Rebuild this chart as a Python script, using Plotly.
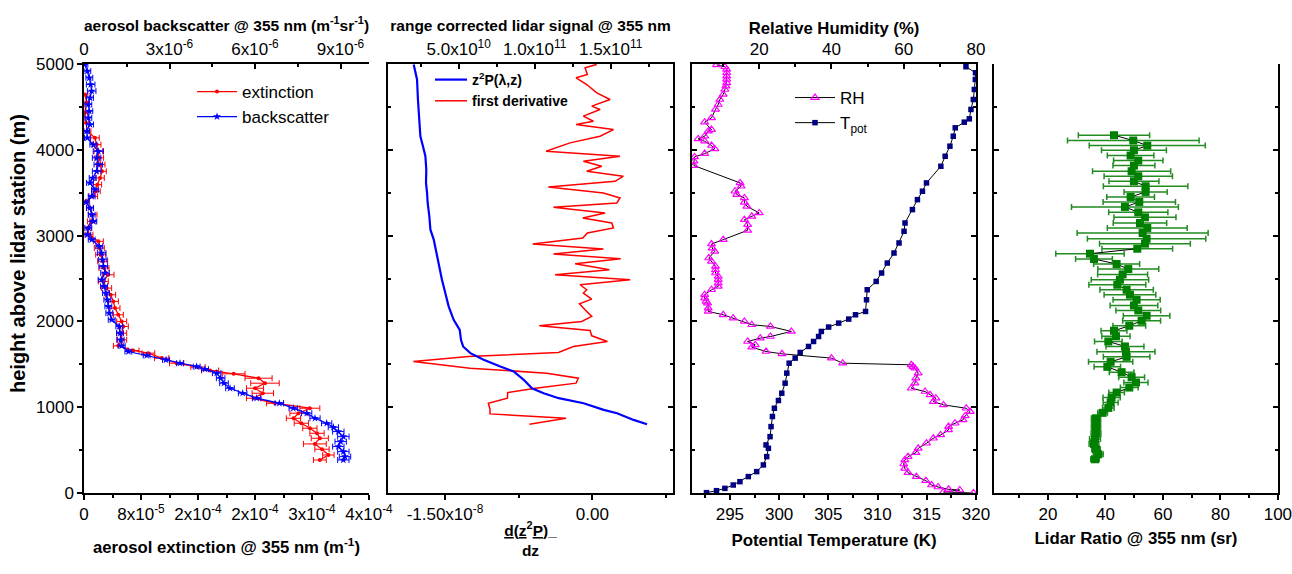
import plotly.graph_objects as go

FONT = "Liberation Sans, Arial, sans-serif"

# ---------------- Panel 1: aerosol extinction (1e-6 m^-1) and backscatter (1e-6 m^-1 sr^-1)
ext_height = [4645, 4547, 4431, 4314, 4217, 4139, 4061, 3983, 3906, 3828, 3750, 3672, 3594, 3517, 3458,
              3400, 3322, 3244, 3166, 3089, 3011, 2933, 2855, 2777, 2700, 2622, 2544, 2466, 2388, 2311,
              2233, 2155, 2077, 2000, 1941, 1863, 1786, 1715, 1661, 1630, 1572, 1513, 1467, 1428, 1389,
              1338, 1280, 1221, 1163, 1105, 1046, 988, 930, 871, 813, 755, 696, 638, 572, 510, 443, 385]
ext_value = [1.4, 3.7, 0.9, 2.8, 4.7, 15.4, 17.8, 20.1, 21.5, 23.4, 25.3, 22.5, 18.7, 16.8, 13.1,
             2.8, 8.4, 12.2, 10.8, 4.7, 7.5, 20.1, 21.5, 23.4, 26.2, 28.1, 34.1, 27.1, 31.8, 37.4,
             41.2, 43.5, 48.2, 52.9, 55.2, 52.9, 52.9, 48.2, 69.2, 90.3, 109, 130, 160, 177, 210,
             245, 254, 240, 251, 238, 268, 317, 301, 294, 305, 317, 327, 331, 324, 334, 343, 331]
ext_error = [4, 4, 4, 4, 5, 6, 6, 6, 6, 6, 6, 6, 6, 6, 6,
             5, 5, 6, 6, 5, 5, 7, 7, 7, 7, 7, 8, 7, 7, 7,
             7, 7, 7, 7, 7, 7, 7, 7, 8, 9, 10, 10, 10, 12, 16,
             19, 20, 12, 15, 10, 12, 14, 12, 10, 10, 10, 10, 12, 16, 10, 8, 9]

bsc_height = [4995, 4917, 4839, 4761, 4684, 4606, 4528, 4450, 4372, 4295, 4217, 4139, 4061, 3983, 3906,
              3828, 3750, 3672, 3614, 3536, 3458, 3388, 3322, 3244, 3166, 3089, 3011, 2953, 2875, 2797,
              2719, 2641, 2564, 2486, 2408, 2330, 2252, 2175, 2097, 2019, 1941, 1863, 1786, 1715, 1649,
              1603, 1552, 1513, 1474, 1443, 1397, 1338, 1280, 1221, 1163, 1105, 1046, 988, 930, 871,
              813, 766, 716, 657, 599, 541, 482, 424, 385]
bsc_value = [0.035, 0.117, 0.187, 0.234, 0.269, 0.211, 0.152, 0.187, 0.152, 0.211,
             0.094, 0.117, 0.327, 0.503, 0.444, 0.503, 0.444, 0.304, 0.211, 0.386,
             0.269, 0.070, 0.211, 0.269, 0.327, 0.152, 0.117, 0.269, 0.538, 0.620,
             0.655, 0.678, 0.737, 0.620, 0.702, 0.772, 0.819, 0.854, 0.889, 0.971,
             1.240, 1.263, 1.287, 1.322, 1.556, 2.199, 2.877, 3.368, 3.953, 4.246,
             4.655, 4.795, 4.912, 5.123, 5.567, 6.058, 6.854, 7.345, 7.813, 8.105,
             8.515, 8.749, 8.924, 9.100, 9.006, 8.924, 9.100, 9.158, 9.100]
bsc_error = [0.10, 0.12, 0.12, 0.15, 0.15, 0.12, 0.12, 0.12, 0.12, 0.12,
             0.10, 0.10, 0.12, 0.18, 0.15, 0.15, 0.15, 0.12, 0.12, 0.12,
             0.12, 0.10, 0.12, 0.12, 0.12, 0.12, 0.12, 0.12, 0.12, 0.15,
             0.15, 0.15, 0.15, 0.12, 0.12, 0.12, 0.12, 0.12, 0.12, 0.12,
             0.12, 0.12, 0.12, 0.12, 0.12, 0.12, 0.12, 0.12, 0.12, 0.12,
             0.15, 0.15, 0.15, 0.15, 0.15, 0.15, 0.15, 0.15, 0.18, 0.18,
             0.18, 0.18, 0.20, 0.20, 0.20, 0.20, 0.20, 0.20, 0.20]

# ---------------- Panel 2: range corrected signal (1e10) and first derivative (1e-8)
sig_height = [4995, 4820, 4586, 4353, 4158, 4042, 3925, 3769, 3614, 3497, 3380, 3225, 3069, 2953,
              2797, 2641, 2486, 2330, 2175, 2019, 1902, 1786, 1708, 1630, 1552, 1474, 1416, 1319,
              1221, 1163, 1105, 1046, 969, 930, 852, 801]
sig_value = [2.04, 2.26, 2.32, 2.41, 2.48, 2.65, 2.81, 2.87, 2.85, 2.92, 2.96, 3.07, 3.14, 3.36,
             3.53, 3.75, 3.90, 4.12, 4.34, 4.67, 5.07, 5.15, 5.29, 5.77, 6.64, 7.74, 8.62, 9.28,
             9.82, 10.59, 11.58, 13.22, 14.54, 15.42, 16.51, 17.39]

der_height = [4995, 4956, 4878, 4839, 4761, 4664, 4586, 4509, 4470, 4392, 4333, 4295, 4236, 4158,
              4081, 3983, 3925, 3867, 3808, 3750, 3692, 3633, 3567, 3497, 3439, 3380, 3330, 3264,
              3205, 3147, 3089, 3030, 2972, 2902, 2844, 2785, 2731, 2672, 2602, 2544, 2486, 2427,
              2369, 2330, 2260, 2206, 2136, 2058, 1999, 1949, 1894, 1832, 1766, 1708, 1638, 1591,
              1533, 1455, 1397, 1338, 1280, 1221, 1171, 1105, 1046, 976, 922, 871, 801]
der_value = [0.044, -0.075, -0.051, -0.166, -0.058, 0.044, 0.180, -0.007, 0.078, -0.092, 0.010,
             -0.166, 0.214, 0.078, -0.228, -0.472, 0.281, -0.092, 0.095, -0.058, 0.315, 0.231,
             -0.448, 0.112, 0.281, 0.248, -0.397, 0.129, -0.098, 0.197, 0.214, -0.051, -0.098,
             -0.607, 0.112, -0.397, 0.288, -0.176, 0.173, -0.380, 0.384, -0.126, -0.058, -0.092,
             -0.007, -0.132, -0.075, -0.007, -0.109, -0.540, -0.024, -0.007, 0.153, -0.193, -0.346,
             -1.262, -1.822, -1.245, -0.465, -0.143, -0.166, -0.580, -0.862, -0.865, -1.059, -1.042,
             -1.042, -0.268, -0.641]

# ---------------- Panel 3: potential temperature (K) and relative humidity (%)
tpot_height = [4968, 4898, 4820, 4703, 4586, 4470, 4361, 4322, 4256, 4158, 4042, 3925, 3808, 3614,
               3517, 3419, 3303, 3147, 3050, 2914, 2797, 2680, 2564, 2466, 2369, 2252, 2116, 2077,
               2027, 1980, 1934, 1883, 1824, 1766, 1708, 1638, 1572, 1513, 1397, 1280, 1163, 1078,
               988, 891, 774, 657, 560, 521, 424, 327, 249, 191, 132, 93, 54, 27, 4]
tpot_value = [318.98, 319.95, 319.93, 319.83, 319.73, 319.49, 319.32, 318.81, 317.89, 317.69, 317.35,
              316.87, 316.43, 314.97, 314.56, 314.05, 313.54, 312.79, 312.69, 312.18, 311.67, 310.99,
              310.41, 309.86, 308.95, 308.88, 308.78, 307.76, 307.07, 306.05, 305.03, 304.29, 304.01,
              303.50, 302.99, 302.14, 301.63, 301.02, 300.78, 300.61, 300.27, 299.93, 299.52, 299.32,
              299.18, 299.08, 298.67, 298.91, 298.74, 298.40, 297.72, 296.87, 296.02, 295.34, 294.49,
              293.64, 292.62]

rh_height = [4990, 4968, 4937, 4898, 4859, 4820, 4781, 4742, 4703, 4645, 4586, 4528, 4470, 4372, 4322,
             4236, 4217, 4158, 4127, 4100, 4050, 4011, 3956, 3917, 3867, 3816, 3614, 3575, 3517, 3478,
             3439, 3388, 3341, 3264, 3225, 3186, 3128, 3062, 2953, 2902, 2855, 2816, 2739, 2700, 2641,
             2602, 2564, 2525, 2486, 2447, 2408, 2369, 2311, 2272, 2233, 2213, 2155, 2116, 2077, 2038,
             1999, 1961, 1941, 1883, 1824, 1805, 1766, 1727, 1700, 1649, 1622, 1572, 1513, 1494, 1474,
             1455, 1397, 1338, 1280, 1221, 1183, 1144, 1105, 1066, 1027, 988, 949, 899, 852, 813, 774,
             735, 677, 638, 580, 521, 471, 424, 385, 338, 288, 237, 191, 144, 93, 70, 43, 35, 12, 0]
rh_value = [8.2, 10.5, 11.0, 11.0, 11.0, 11.0, 11.0, 10.8, 10.5, 10.05, 9.1, 8.65, 7.9, 6.8, 4.9,
            6.8, 5.9, 4.9, 3.1, 4.9, 6.8, 7.7, 4.9, 2.1, 1.95, 1.95, 14.7, 15.0, 13.3, 13.8,
            15.9, 15.9, 16.6, 20.0, 17.95, 15.9, 16.8, 16.8, 10.05, 6.8, 7.0, 7.7, 6.05, 6.8, 7.9,
            7.9, 7.9, 8.65, 8.65, 8.65, 8.65, 6.8, 4.9, 4.9, 5.3, 5.7, 5.9, 5.9, 10.05, 12.8,
            15.9, 17.95, 23.1, 28.9, 23.1, 20.3, 16.8, 18.9, 17.95, 21.9, 26.3, 40.0, 43.1, 62.1, 62.6,
            63.1, 64.0, 63.35, 63.1, 62.1, 65.9, 67.3, 68.9, 68.2, 71.0, 77.3, 78.4, 77.0, 76.4, 74.2, 72.4,
            72.4, 70.2, 68.2, 66.3, 64.0, 63.35, 61.2, 60.3, 60.0, 60.3, 61.2, 63.5, 66.1, 67.7, 69.5,
            72.4, 75.5, 71.0, 79.3]

# ---------------- Panel 4: lidar ratio (sr)
lr_height = [4170, 4108, 4049, 3995, 3933, 3874, 3816, 3750, 3692, 3633, 3575, 3509, 3450, 3392, 3334,
             3271, 3213, 3147, 3089, 3030, 2964, 2906, 2847, 2789, 2727, 2669, 2610, 2548, 2486, 2427,
             2369, 2311, 2252, 2186, 2128, 2066, 2007, 1949, 1891, 1828, 1766, 1708, 1645, 1587, 1529,
             1470, 1408, 1350, 1288, 1229, 1171, 1113, 1054, 992, 934, 871, 813, 751, 692, 630, 572,
             510, 451, 393]
lr_value = [42.96, 49.68, 54.55, 49.91, 48.75, 51.42, 49.91, 49.10, 51.42, 49.91, 53.97, 53.97, 48.75,
            51.77, 46.78, 51.42, 53.74, 52.00, 54.55, 52.93, 54.32, 53.74, 51.07, 34.61, 36.00, 43.88,
            47.94, 45.97, 45.04, 44.12, 47.36, 48.52, 50.84, 49.91, 51.42, 54.32, 52.58, 48.29, 42.96,
            43.65, 40.99, 46.78, 47.13, 47.36, 41.80, 40.64, 45.62, 49.10, 50.61, 48.29, 43.88, 42.14,
            41.80, 40.99, 39.01, 36.70, 36.70, 36.70, 36.70, 36.35, 36.00, 36.70, 37.51, 36.35]
lr_error = [12.4, 22.9, 20.2, 11.3, 8.1, 8.6, 7.3, 13.6, 11.9, 8.7, 14.7, 7.5, 8.3, 12.6, 18.6,
            10.3, 10.8, 9.3, 13.9, 22.8, 20.6, 15.8, 12.3, 11.9, 6.4, 8.0, 10.6, 8.7, 10.0, 9.9,
            9.3, 9.0, 8.2, 8.3, 7.8, 8.1, 6.6, 5.7, 4.5, 4.9, 4.8, 6.6, 10.1, 8.1, 7.7,
            4.6, 4.3, 4.5, 4.2, 3.1, 2.7, 3.0, 2.6, 2.0, 1.7, 1.6, 1.6, 1.6, 1.7, 1.9, 1.7,
            1.5, 1.7, 1.5]

# ---------------- tick labels
ext_tickvals = [0, 8e-5, 1.6e-4, 2.4e-4, 3.2e-4, 4e-4]
ext_ticktext = ["0", "8x10<sup>-5</sup>", "2x10<sup>-4</sup>", "2x10<sup>-4</sup>", "3x10<sup>-4</sup>", "4x10<sup>-4</sup>"]
bsc_tickvals = [0, 3e-6, 6e-6, 9e-6]
bsc_ticktext = ["0", "3x10<sup>-6</sup>", "6x10<sup>-6</sup>", "9x10<sup>-6</sup>"]
der_tickvals = [-1.5e-8, 0]
der_ticktext = ["-1.50x10<sup>-8</sup>", "0.00"]
sig_tickvals = [5e10, 1e11, 1.5e11]
sig_ticktext = ["5.0x10<sup>10</sup>", "1.0x10<sup>11</sup>", "1.5x10<sup>11</sup>"]
lr_tickvals = [20, 40, 60, 80, 100]
lr_ticktext = ["20", "40", "60", "80", "100"]

# ---------------- geometry
W, H = 1292, 574
ML, MR, MT, MB = 84, 14, 64, 81
PW = W - ML - MR
PH = H - MT - MB


def dom(a, b):
    return [(a - ML) / PW, (b - ML) / PW]


def px(xp):
    return (xp - ML) / PW


def py(yp):
    return (MT + PH - yp) / PH


D1, D2, D3, D4 = dom(84, 369), dom(388, 673), dom(692, 976), dom(994, 1278)

fig = go.Figure()

# Panel 1
fig.add_trace(go.Scatter(
    x=[v * 1e-6 for v in ext_value], y=ext_height, xaxis="x", yaxis="y",
    mode="lines+markers", name="extinction", legend="legend",
    line=dict(color="#ff0000", width=1.3),
    marker=dict(symbol="circle", size=4, color="#ff0000"),
    error_x=dict(type="data", array=[e * 1e-6 for e in ext_error], color="#ff0000", thickness=1, width=3)))
fig.add_trace(go.Scatter(
    x=[v * 1e-6 for v in bsc_value], y=bsc_height, xaxis="x2", yaxis="y",
    mode="lines+markers", name="backscatter", legend="legend",
    line=dict(color="#0000ff", width=1.3),
    marker=dict(symbol="star", size=6, color="#0000ff"),
    error_x=dict(type="data", array=[e * 1e-6 for e in bsc_error], color="#0000ff", thickness=1, width=3)))

# Panel 2
fig.add_trace(go.Scatter(
    x=[v * 1e-8 for v in der_value], y=der_height, xaxis="x3", yaxis="y2",
    mode="lines", name="<b>first derivative</b>", legend="legend2",
    line=dict(color="#ff0000", width=1.5)))
fig.add_trace(go.Scatter(
    x=[v * 1e10 for v in sig_value], y=sig_height, xaxis="x4", yaxis="y2",
    mode="lines", name="<b>z<sup>2</sup>P(λ,z)</b>", legend="legend2",
    line=dict(color="#0000ff", width=2.2)))

# Panel 3
fig.add_trace(go.Scatter(
    x=tpot_value, y=tpot_height, xaxis="x5", yaxis="y3",
    mode="lines+markers", name="T<sub>pot</sub>", legend="legend3",
    line=dict(color="black", width=1),
    marker=dict(symbol="square", size=5.5, color="#000080")))
fig.add_trace(go.Scatter(
    x=rh_value, y=rh_height, xaxis="x6", yaxis="y3",
    mode="lines+markers", name="RH", legend="legend3",
    line=dict(color="black", width=1),
    marker=dict(symbol="triangle-up-open", size=7, color="#ff00ff", line=dict(width=1.2, color="#ff00ff"))))

# Panel 4
fig.add_trace(go.Scatter(
    x=lr_value, y=lr_height, xaxis="x7", yaxis="y4",
    mode="lines+markers", name="lidar ratio", showlegend=False,
    line=dict(color="black", width=1),
    marker=dict(symbol="square", size=8, color="#008000"),
    error_x=dict(type="data", array=lr_error, color="#228b22", thickness=1.5, width=3)))

tickfont = dict(family=FONT, size=17, color="black")


def tfont(size):
    return dict(family=FONT, size=size, color="black")


def ax(**kw):
    base = dict(showline=True, linecolor="black", linewidth=1.5, showgrid=False, zeroline=False,
                tickcolor="black", tickwidth=1.5, ticklen=5, tickfont=tickfont, automargin=False,
                ticklabeloverflow="allow")
    base.update(kw)
    return base


def minor(dt, ticks, t0=0):
    return dict(dtick=dt, tick0=t0, ticks=ticks, ticklen=3, tickwidth=1.5, tickcolor="black", showgrid=False)


yrange = [0, 5000]

fig.update_layout(
    width=W, height=H,
    margin=dict(l=ML, r=MR, t=MT, b=MB, pad=0, autoexpand=False),
    paper_bgcolor="white", plot_bgcolor="white",
    font=dict(family=FONT, color="black"),
    # panel 1
    xaxis=ax(domain=D1, anchor="y", range=[0, 4e-4], tickmode="array", tickvals=ext_tickvals,
             ticktext=ext_ticktext, ticks="outside", minor=minor(4e-5, "outside"),
             title=dict(text="<b>aerosol extinction @ 355 nm (m<sup>-1</sup>)</b>", font=tfont(16.7), standoff=18)),
    xaxis2=ax(overlaying="x", side="top", anchor="y", range=[0, 1e-5], tickmode="array",
              tickvals=bsc_tickvals, ticktext=bsc_ticktext, ticks="inside", minor=minor(1.5e-6, "inside"),
              title=dict(text="<b>aerosol backscatter @ 355 nm (m<sup>-1</sup>sr<sup>-1</sup>)</b>",
                         font=tfont(15.5), standoff=2)),
    yaxis=ax(domain=[0, 1], anchor="x", range=yrange, dtick=1000, ticks="outside",
             minor=minor(500, "outside")),
    yaxis5=ax(overlaying="y", side="right", anchor="x", range=yrange, dtick=1000, ticks="inside",
              showticklabels=False, minor=minor(500, "inside")),
    # panel 2
    xaxis3=ax(domain=D2, anchor="y2", range=[-2.08e-8, 0.82e-8], tickmode="array", tickvals=der_tickvals,
              ticktext=der_ticktext, ticks="outside", minor=minor(0.75e-8, "outside"),
              title=dict(text="<b><u>d</u>(<u>z</u><sup>2</sup><u>P</u>)_<br>dz</b>", font=tfont(15.5), standoff=2)),
    xaxis4=ax(overlaying="x3", side="top", anchor="y2", range=[0.35e10, 19.1e10], tickmode="array",
              tickvals=sig_tickvals, ticktext=sig_ticktext, ticks="inside", minor=minor(2.5e10, "inside"),
              title=dict(text="<b>range corrected lidar signal @ 355 nm</b>", font=tfont(15.5), standoff=2)),
    yaxis2=ax(domain=[0, 1], anchor="x3", range=yrange, dtick=1000, ticks="inside", mirror="ticks",
              showticklabels=False, minor=minor(500, "inside")),
    # panel 3
    xaxis5=ax(domain=D3, anchor="y3", range=[291.15, 320], dtick=5, tick0=0, ticks="outside",
              minor=minor(2.5, "outside"),
              title=dict(text="<b>Potential Temperature (K)</b>", font=tfont(16.9), standoff=11)),
    xaxis6=ax(overlaying="x5", side="top", anchor="y3", range=[1.4, 80], dtick=20, tick0=0, ticks="inside",
              minor=minor(10, "inside"),
              title=dict(text="<b>Relative Humidity (%)</b>", font=tfont(16.7), standoff=2)),
    yaxis3=ax(domain=[0, 1], anchor="x5", range=yrange, dtick=1000, ticks="inside", mirror="ticks",
              showticklabels=False, minor=minor(500, "inside")),
    # panel 4
    xaxis7=ax(domain=D4, anchor="y4", range=[1.2, 100.05], tickmode="array", tickvals=lr_tickvals,
              ticktext=lr_ticktext, ticks="outside", minor=minor(10, "outside"),
              title=dict(text="<b>Lidar Ratio @ 355 nm (sr)</b>", font=tfont(16.8), standoff=9)),
    xaxis8=ax(overlaying="x7", side="top", anchor="y4", range=[1.2, 100.05], dtick=20, tick0=0, ticks="inside",
              showticklabels=False, minor=minor(10, "inside")),
    yaxis4=ax(domain=[0, 1], anchor="x7", range=yrange, dtick=1000, ticks="inside", mirror="ticks",
              showticklabels=False, minor=minor(500, "inside")),
    legend=dict(x=px(192), y=py(74), xanchor="left", yanchor="top", itemwidth=40,
                bgcolor="rgba(0,0,0,0)", font=tfont(17), traceorder="normal"),
    legend2=dict(x=px(430), y=py(64), xanchor="left", yanchor="top", itemwidth=32,
                 bgcolor="rgba(0,0,0,0)", font=tfont(14), traceorder="reversed"),
    legend3=dict(x=px(790), y=py(80), xanchor="left", yanchor="top", itemwidth=40,
                 bgcolor="rgba(0,0,0,0)", font=tfont(17), traceorder="reversed"),
    annotations=[dict(text="<b>height above lidar station (m)</b>", textangle=-90,
                      xref="paper", yref="paper", x=px(18), y=py(254), xanchor="center", yanchor="middle",
                      showarrow=False, font=tfont(20))],
)

fig.write_html("out.html", config={"displayModeBar": False},
               post_script="document.body.style.margin='0';document.body.style.overflow='hidden';")
